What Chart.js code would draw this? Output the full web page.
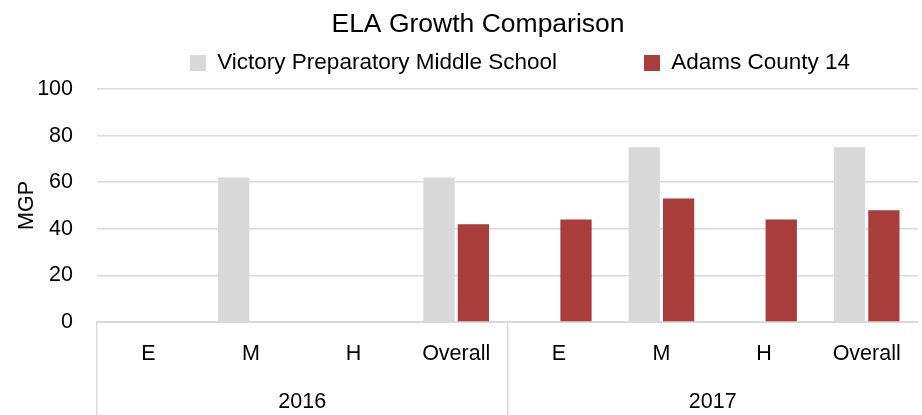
<!DOCTYPE html>
<html>
<head>
<meta charset="utf-8">
<script src="https://cdn.jsdelivr.net/npm/chart.js@4/dist/chart.umd.min.js"></script>
<style>
  html, body { margin: 0; padding: 0; background: #ffffff; }
  #wrap { width: 922px; height: 415px; }
</style>
</head>
<body>
<div id="wrap"><canvas id="c" width="922" height="415"></canvas></div>
<script>
// ---- data ----
const categories = ['E', 'M', 'H', 'Overall', 'E', 'M', 'H', 'Overall'];
const years = ['2016', '2017'];
const seriesNames = ['Victory Preparatory Middle School', 'Adams County 14'];
const victoryValues = [null, 62, null, 62, null, 75, null, 75];
const adamsValues = [null, null, null, 42, 44, 53, 44, 48];
const yTicks = [0, 20, 40, 60, 80, 100];
const chartTitle = 'ELA Growth Comparison';
const yTitle = 'MGP';

// ---- styles ----
const FONT = "'Liberation Sans', Arial, sans-serif";
const GRID = '#d9d9d9';

const placeBlocks = {
  id: 'placeBlocks',
  afterLayout(chart, args, o) {
    const L = chart.legend;
    if (L && L.lineWidths) {
      const P = L.options.labels.padding;
      const start = (L.left + P + L.right - L.lineWidths[0]) / 2;
      const dx = o.legendStartX - start;
      L.left += dx; L.right += dx;
      L.top = o.legendItemTop - P;
      L.bottom = L.top + P + 40;
    }
    const T = chart.titleBlock;
    if (T) { T.left += o.titleShift; T.right += o.titleShift; }
  }
};

new Chart(document.getElementById('c'), {
  type: 'bar',
  data: {
    labels: categories,
    datasets: [
      { label: seriesNames[0], data: victoryValues, backgroundColor: '#d9d9d9',
        categoryPercentage: 0.67, barPercentage: 0.91, xAxisID: 'x' },
      { label: seriesNames[1], data: adamsValues, backgroundColor: '#a93d3b',
        categoryPercentage: 0.67, barPercentage: 0.91, xAxisID: 'x' }
    ]
  },
  plugins: [placeBlocks],
  options: {
    responsive: false,
    animation: false,
    devicePixelRatio: 1,
    layout: { padding: { left: 0, right: 4, top: 0, bottom: 0 } },
    plugins: {
      tooltip: { enabled: false },
      title: {
        display: true, text: chartTitle, color: '#000000',
        font: { family: FONT, size: 26.5, weight: 'normal' },
        padding: { top: 9, bottom: 0 }
      },
      legend: {
        display: true, position: 'top', maxHeight: 48.2,
        labels: {
          color: '#000000', boxWidth: 16, boxHeight: 16, padding: 87,
          font: { family: FONT, size: 22.5 }
        }
      },
      placeBlocks: { legendStartX: 190, legendItemTop: 51.75, titleShift: 19 }
    },
    scales: {
      y: {
        min: yTicks[0], max: yTicks[yTicks.length - 1],
        ticks: { stepSize: yTicks[1] - yTicks[0], color: '#000000', padding: 24,
                 font: { family: FONT, size: 21.5 } },
        grid: { color: GRID, lineWidth: 1.5, drawTicks: false },
        border: { display: false },
        title: { display: true, text: yTitle, color: '#000000',
                 font: { family: FONT, size: 21.5 }, padding: { top: 14.1, bottom: 0 } },
        afterFit(scale) { scale.width = 97; }
      },
      x: {
        type: 'category', position: 'bottom', weight: 0, offset: true,
        ticks: { color: '#000000', padding: -73.9, maxRotation: 0, autoSkip: false,
                 font: { family: FONT, size: 21.5 } },
        grid: { offset: true, drawOnChartArea: false, tickLength: 93, lineWidth: 1.5,
                color: (ctx) => (ctx.index % 4 === 0 ? GRID : 'rgba(0,0,0,0)') },
        border: { display: true, color: GRID, width: 2 },
        afterFit(scale) { scale.height = 40; }
      },
      x2: {
        type: 'category', position: 'bottom', weight: 1, offset: true,
        labels: years,
        ticks: { color: '#000000', padding: 27.1, maxRotation: 0,
                 font: { family: FONT, size: 21.5 } },
        grid: { display: false, drawTicks: false, offset: true },
        border: { display: false },
        afterFit(scale) { scale.height = 53; }
      }
    }
  }
});
</script>
</body>
</html>
